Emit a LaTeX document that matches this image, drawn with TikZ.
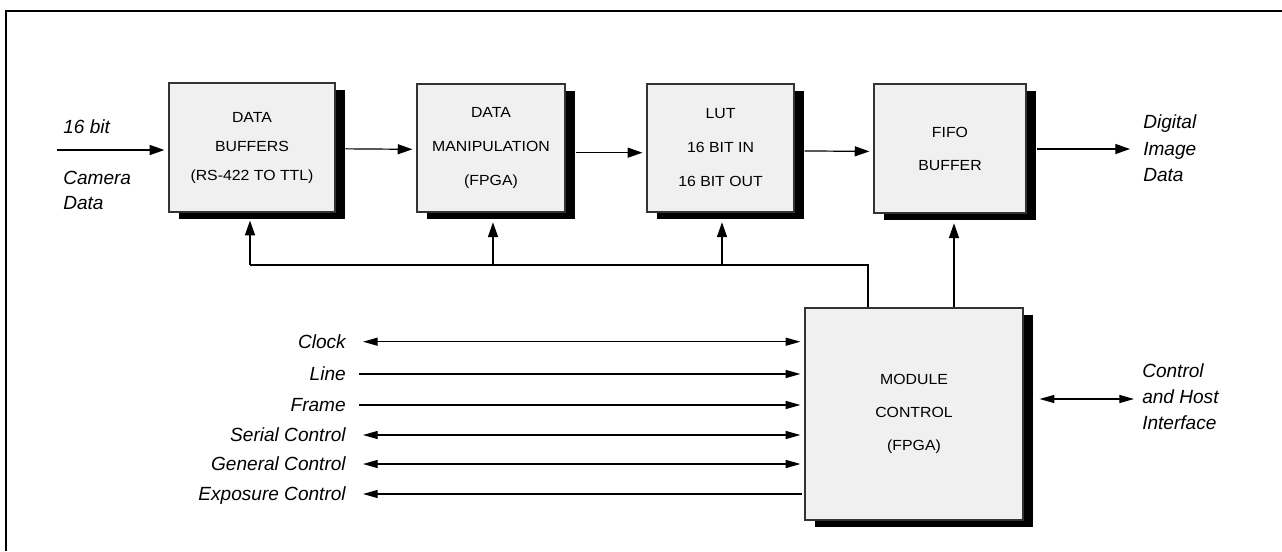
\documentclass[tikz,border=0pt]{standalone}
\usepackage{fontspec}
\setmainfont{Liberation Sans}
\newfontfamily\boxfont[FakeStretch=1.08]{Liberation Sans}
\usetikzlibrary{arrows.meta,shadows}
\begin{document}
\begin{tikzpicture}[x=0.75pt,y=-0.75pt,
  blk/.style={draw=black!80, line width=0.9pt, fill=black!6, inner sep=0pt, align=center,
    general shadow={fill=black, shadow xshift=7.5pt, shadow yshift=-4.9pt}},
  wire/.style={line width=0.9pt},
  arr/.style={wire, -{Triangle[length=11pt,width=7.5pt]}},
  sarr/.style={wire, -{Triangle[length=11pt,width=6pt]}},
  darr/.style={wire, {Triangle[length=11pt,width=6pt]}-{Triangle[length=11pt,width=6pt]}},
  larr/.style={wire, {Triangle[length=11pt,width=6pt]}-},
  lab/.style={font=\fontsize{14.3pt}{19.5pt}\selectfont\itshape, inner sep=0pt},
  siglab/.style={lab, anchor=east, text height=10.2pt, text depth=0pt}
]
\useasboundingbox (0,0) rectangle (1282,551);
% frame
\draw[line width=1.6pt] (1282,11) -- (6,11) -- (6,551);

% blocks
\node[blk, minimum width=124.5pt, minimum height=96.75pt, font=\boxfont\fontsize{11pt}{21.75pt}\selectfont] (B1) at (252,147.5) {DATA\\BUFFERS\\(RS-422 TO TTL)};
\node[blk, minimum width=111pt, minimum height=96pt, font=\boxfont\fontsize{11pt}{25.5pt}\selectfont] (B2) at (491,148) {DATA\\MANIPULATION\\(FPGA)};
\node[blk, minimum width=110.25pt, minimum height=96pt, font=\boxfont\fontsize{11pt}{25.5pt}\selectfont] (B3) at (720.5,148) {LUT\\16 BIT IN\\16 BIT OUT};
\node[blk, minimum width=114pt, minimum height=96.75pt, font=\boxfont\fontsize{11pt}{24.75pt}\selectfont] (B4) at (950,148.5) {FIFO\\BUFFER};
\node[blk, minimum width=163.5pt, minimum height=159pt, font=\boxfont\fontsize{11pt}{25pt}\selectfont] (MC) at (914,414) {MODULE\\CONTROL\\(FPGA)};

% input / output labels
\node[lab, anchor=west] (l16) at (63,126.7) {16 bit};
\node[lab, anchor=west, align=left, font=\fontsize{14.3pt}{18.75pt}\selectfont\itshape] (lcam) at (63,190.5) {Camera\\Data};
\node[lab, anchor=west, align=left, font=\fontsize{14.3pt}{20pt}\selectfont\itshape] (ldig) at (1143,148.3) {Digital\\Image\\Data};
\node[lab, anchor=west, align=left, font=\fontsize{14.3pt}{19.5pt}\selectfont\itshape] (lhost) at (1142,397) {Control\\and Host\\Interface};

% data path
\coordinate (cin) at (57,150);
\draw[arr, shorten >=3pt] (cin) -- (cin -| B1.west);
\draw[arr, shorten >=3pt] ([xshift=7.5pt,yshift=-1pt]B1.east) -- ([yshift=-1pt]B2.west);
\draw[arr, shorten >=3pt] ([xshift=7.5pt,yshift=-3.5pt]B2.east) -- ([yshift=-3.5pt]B3.west);
\draw[arr, shorten >=3pt] ([xshift=7.5pt,yshift=-2.2pt]B3.east) -- ([yshift=-2.2pt]B4.west);
\coordinate (cout) at (1130,149);
\draw[arr, shorten <=7.5pt] (cout -| B4.east) -- (cout);

% control bus
\coordinate (busR) at (868,265);
\coordinate (busL) at (250,265);
\coordinate (bus2) at (493,265);
\coordinate (bus3) at (722,265);
\coordinate (ff) at (954,265);
\draw[wire] (busR |- MC.north) -- (busR) -- (busL);
\draw[arr, shorten >=6pt] (busL) -- (busL |- B1.south);
\draw[arr, shorten >=7.3pt] (bus2) -- (bus2 |- B2.south);
\draw[arr, shorten >=7.3pt] (bus3) -- (bus3 |- B3.south);
\draw[arr, shorten >=7.3pt] (ff |- MC.north) -- (ff |- B4.south);

% signals
\node[siglab] (lclk) at (346,341.7) {Clock};
\node[siglab] (lline) at (346,374) {Line};
\node[siglab] (lframe) at (346,405) {Frame};
\node[siglab] (lser) at (346,435) {Serial Control};
\node[siglab] (lgen) at (346,464) {General Control};
\node[siglab] (lexp) at (346,494) {Exposure Control};

\draw[darr, shorten <=12.75pt, shorten >=3pt] (lclk.east) -- (lclk.east -| MC.west);
\draw[sarr, shorten <=9.75pt, shorten >=3pt] (lline.east) -- (lline.east -| MC.west);
\draw[sarr, shorten <=9.75pt, shorten >=3pt] (lframe.east) -- (lframe.east -| MC.west);
\draw[darr, shorten <=12.75pt, shorten >=3pt] (lser.east) -- (lser.east -| MC.west);
\draw[darr, shorten <=12.75pt, shorten >=3pt] (lgen.east) -- (lgen.east -| MC.west);
\draw[larr, shorten <=12.75pt, shorten >=1.5pt] (lexp.east) -- (lexp.east -| MC.west);

% host interface
\coordinate (chost) at (1134,399);
\draw[darr, shorten <=12pt] (chost -| MC.east) -- (chost);
\end{tikzpicture}
\end{document}
